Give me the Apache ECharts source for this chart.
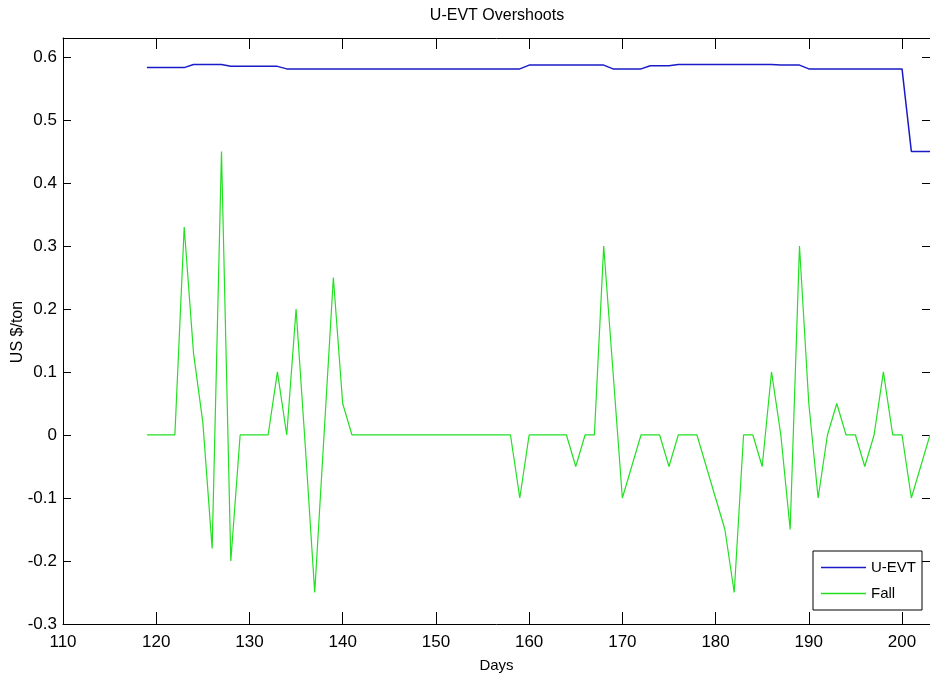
<!DOCTYPE html>
<html>
<head>
<meta charset="utf-8">
<script src="https://cdn.jsdelivr.net/npm/echarts@6/dist/echarts.min.js"></script>
<style>
html,body{margin:0;padding:0;background:#fff;}
#c{width:930px;height:681px;}
</style>
</head>
<body>
<div id="c"></div>
<script>
var days = [119,120,121,122,123,124,125,126,127,128,129,130,131,132,133,134,135,136,137,138,139,140,141,142,143,144,145,146,147,148,149,150,151,152,153,154,155,156,157,158,159,160,161,162,163,164,165,166,167,168,169,170,171,172,173,174,175,176,177,178,179,180,181,182,183,184,185,186,187,188,189,190,191,192,193,194,195,196,197,198,199,200,201,202,203];
var uevt = [0.583,0.583,0.583,0.583,0.583,0.588,0.588,0.588,0.588,0.585,0.585,0.585,0.585,0.585,0.585,0.581,0.581,0.581,0.581,0.581,0.581,0.581,0.581,0.581,0.581,0.581,0.581,0.581,0.581,0.581,0.581,0.581,0.581,0.581,0.581,0.581,0.581,0.581,0.581,0.581,0.581,0.587,0.587,0.587,0.587,0.587,0.587,0.587,0.587,0.587,0.581,0.581,0.581,0.581,0.586,0.586,0.586,0.588,0.588,0.588,0.588,0.588,0.588,0.588,0.588,0.588,0.588,0.588,0.587,0.587,0.587,0.581,0.581,0.581,0.581,0.581,0.581,0.581,0.581,0.581,0.581,0.581,0.45,0.45,0.45];
var fall = [0,0,0,0,0.33,0.13,0.02,-0.18,0.45,-0.2,0,0,0,0,0.1,0,0.2,-0.02,-0.25,0,0.25,0.05,0,0,0,0,0,0,0,0,0,0,0,0,0,0,0,0,0,0,-0.1,0,0,0,0,0,-0.05,0,0,0.3,0.1,-0.1,-0.05,0,0,0,-0.05,0,0,0,-0.05,-0.1,-0.15,-0.25,0,0,-0.05,0.1,0,-0.15,0.3,0.05,-0.1,0,0.05,0,0,-0.05,0,0.1,0,0,-0.1,-0.05,0];
var seriesNames = ['U-EVT','Fall'];
var titleText = 'U-EVT Overshoots';
var xName = 'Days';
var yName = 'US $/ton';

var FONT = "'Liberation Sans',Arial,sans-serif";
function pairs(xs, ys){ return xs.map(function(x,i){ return [x, ys[i]]; }); }

var chart = echarts.init(document.getElementById('c'), null, {renderer:'canvas'});
var axisLineStyle = {onZero:false, lineStyle:{color:'#000', width:1}};
chart.setOption({
  animation:false,
  backgroundColor:'#fff',
  grid:{left:63, top:38, right:0, bottom:57, containLabel:false, outerBoundsMode:'none'},
  graphic:[
    {type:'text', x:497, y:16, style:{text:titleText, font:"16px "+FONT, fill:'#000', textAlign:'center', textVerticalAlign:'middle'}},
    {type:'text', x:18, y:332, rotation:Math.PI/2, style:{text:yName, font:"16px "+FONT, fill:'#000', textAlign:'center', textVerticalAlign:'middle'}}
  ],
  legend:{
    orient:'vertical', left:813, top:551,
    data:seriesNames.map(function(n){ return {name:n, icon:'rect'}; }),
    borderColor:'#000', borderWidth:1, backgroundColor:'#fff',
    padding:[9,6,9,8], itemWidth:45, itemHeight:1.5, itemGap:11,
    textStyle:{fontFamily:FONT, fontSize:15, color:'#000', padding:[0,0,0,0]}
  },
  xAxis:[{
    type:'value', min:110, max:203, interval:10, position:'bottom',
    name:xName, nameLocation:'middle', nameGap:34,
    nameTextStyle:{fontFamily:FONT, fontSize:15, color:'#000'},
    axisLine:axisLineStyle, axisTick:{inside:true, length:12, lineStyle:{color:'#000'}},
    axisLabel:{fontFamily:FONT, fontSize:17, color:'#000', margin:10,
      formatter:function(v){ return (Math.abs(v%10)<1e-6)? String(v) : ''; }},
    splitLine:{show:false}
  },{
    type:'value', min:110, max:203, interval:10, position:'top',
    axisLine:axisLineStyle, axisTick:{inside:true, length:11, lineStyle:{color:'#000'}},
    axisLabel:{show:false}, splitLine:{show:false}
  }],
  yAxis:[{
    type:'value', min:-0.3, max:0.63, interval:0.1, position:'left',
    axisLine:axisLineStyle, axisTick:{inside:true, length:8, lineStyle:{color:'#000'}},
    axisLabel:{fontFamily:FONT, fontSize:17, color:'#000', margin:6,
      formatter:function(v){ var r=Math.round(v*10)/10; return Math.abs(v-r)<1e-6 ? String(r) : ''; }},
    splitLine:{show:false}
  },{
    type:'value', min:-0.3, max:0.63, interval:0.1, position:'right',
    axisLine:axisLineStyle, axisTick:{inside:true, length:8, lineStyle:{color:'#000'}},
    axisLabel:{show:false}, splitLine:{show:false}
  }],
  series:[{
    name:seriesNames[0], type:'line', data:pairs(days,uevt), symbol:'none',
    lineStyle:{color:'#1a1ac8', width:1.5}, itemStyle:{color:'#1a1ac8'}
  },{
    name:seriesNames[1], type:'line', data:pairs(days,fall), symbol:'none',
    lineStyle:{color:'#22e022', width:1.2}, itemStyle:{color:'#22e022'}
  }]
});
</script>
</body>
</html>
